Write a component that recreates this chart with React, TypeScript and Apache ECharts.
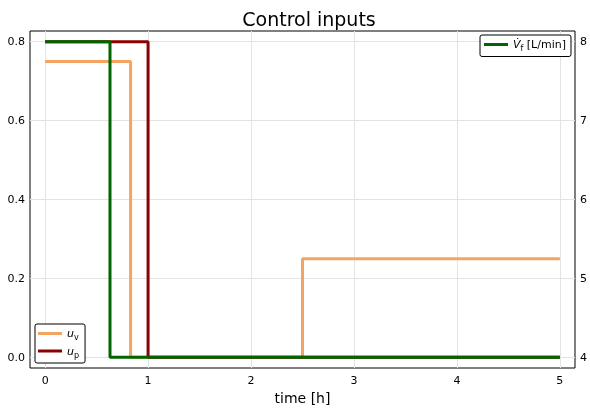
import React, { useEffect, useRef } from "react";
import * as echarts from "echarts";

const xTicks = [0, 1, 2, 3, 4, 5];
const leftTicks = [0, 0.2, 0.4, 0.6, 0.8];
const rightTicks = [4, 5, 6, 7, 8];
const uvTime = [0, 0.83, 0.83, 2.5, 2.5, 5];
const uvValue = [0.75, 0.75, 0, 0, 0.25, 0.25];
const upTime = [0, 1.0, 1.0, 5];
const upValue = [0.8, 0.8, 0, 0];
const vfTime = [0, 0.63, 0.63, 5];
const vfValue = [8, 8, 4, 4];

const FONT = "DejaVu Sans";

function pairs(xs: number[], ys: number[]) {
  return xs.map((x, i) => [x, ys[i]]);
}

export default function App() {
  const ref = useRef<HTMLDivElement>(null);
  useEffect(() => {
    if (!ref.current) return;
    const chart = echarts.init(ref.current, undefined, { renderer: "svg" });
    const rich = {
      i: { fontFamily: FONT, fontSize: 11, fontStyle: "italic", color: "#000", lineHeight: 16 },
      s: { fontFamily: FONT, fontSize: 8, color: "#000", verticalAlign: "bottom", lineHeight: 12 },
      n: { fontFamily: FONT, fontSize: 11, color: "#000", lineHeight: 16 },
    };
    const fmt = (name: string) => {
      if (name === "uv") return "{i|u}{s|v}";
      if (name === "up") return "{i|u}{s|p}";
      return "{i|V\u0307}{s|f}{n| [L/min]}";
    };
    const legendBase = {
      orient: "vertical",
      backgroundColor: "#fff",
      borderColor: "#000",
      borderWidth: 1,
      borderRadius: 2,
      itemWidth: 24,
      itemHeight: 3,
      icon: "rect",
      formatter: fmt,
      textStyle: { rich },
    };
    chart.setOption({
      animation: false,
      title: {
        text: "Control inputs",
        left: 304,
        textAlign: "center",
        top: 4,
        textStyle: { fontFamily: FONT, fontSize: 19, fontWeight: "normal", color: "#000" },
      },
      legend: [
        { ...legendBase, data: ["Vf"], right: 19, top: 35, padding: [4, 5, 4, 4], itemGap: 6 },
        { ...legendBase, data: ["uv", "up"], left: 35, top: 324, padding: [4, 6, 4, 3], itemGap: 4 },
      ],
      grid: {
        left: 30,
        right: 12.3,
        top: 31,
        bottom: 42,
        show: true,
        borderColor: "#000",
        borderWidth: 1,
        containLabel: false,
      },
      xAxis: {
        type: "value",
        min: -0.147,
        max: 5.147,
        name: "time [h]",
        nameLocation: "middle",
        nameGap: 20,
        nameTextStyle: { fontFamily: FONT, fontSize: 14, color: "#000" },
        axisLine: { show: false },
        axisTick: { show: true, inside: true, length: 4, lineStyle: { color: "#000" }, customValues: xTicks },
        axisLabel: {
          fontFamily: FONT,
          fontSize: 11,
          color: "#000",
          margin: 7,
          customValues: xTicks,
          formatter: (v: number) => String(v),
        },
        splitLine: { show: false },
      },
      yAxis: [
        {
          type: "value",
          min: -0.027,
          max: 0.827,
          axisLine: { show: false },
          axisTick: { show: true, inside: true, length: 4, lineStyle: { color: "#000" }, customValues: leftTicks },
          axisLabel: {
            fontFamily: FONT,
            fontSize: 11,
            color: "#000",
            margin: 5,
            customValues: leftTicks,
            formatter: (v: number) => v.toFixed(1),
          },
          splitLine: { show: false },
        },
        {
          type: "value",
          position: "right",
          min: 3.865,
          max: 8.135,
          axisLine: { show: false },
          axisTick: { show: true, inside: true, length: 4, lineStyle: { color: "#000" }, customValues: rightTicks },
          axisLabel: {
            fontFamily: FONT,
            fontSize: 11,
            color: "#000",
            margin: 5,
            customValues: rightTicks,
            formatter: (v: number) => String(v),
          },
          splitLine: { show: false },
        },
      ],
      series: [
        {
          type: "line",
          name: "grid",
          data: [],
          yAxisIndex: 0,
          silent: true,
          z: 1,
          markLine: {
            silent: true,
            symbol: "none",
            z: 1,
            label: { show: false },
            lineStyle: { color: "#e3e3e3", type: "solid", width: 1 },
            data: [
              ...leftTicks.map((v) => ({ yAxis: v })),
              ...xTicks.map((v) => ({ xAxis: v })),
            ],
          },
        },
        {
          type: "line",
          name: "uv",
          data: pairs(uvTime, uvValue),
          yAxisIndex: 0,
          showSymbol: false,
          symbol: "none",
          lineStyle: { color: "#f4a460", width: 3 },
          itemStyle: { color: "#f4a460" },
          z: 2,
        },
        {
          type: "line",
          name: "up",
          data: pairs(upTime, upValue),
          yAxisIndex: 0,
          showSymbol: false,
          symbol: "none",
          lineStyle: { color: "#8b0000", width: 3 },
          itemStyle: { color: "#8b0000" },
          z: 3,
        },
        {
          type: "line",
          name: "Vf",
          data: pairs(vfTime, vfValue),
          yAxisIndex: 1,
          showSymbol: false,
          symbol: "none",
          lineStyle: { color: "#006400", width: 3 },
          itemStyle: { color: "#006400" },
          z: 4,
        },
      ],
    });
    return () => chart.dispose();
  }, []);
  return <div ref={ref} style={{ position: "fixed", left: 0, top: 0, width: 590, height: 410 }} />;
}
